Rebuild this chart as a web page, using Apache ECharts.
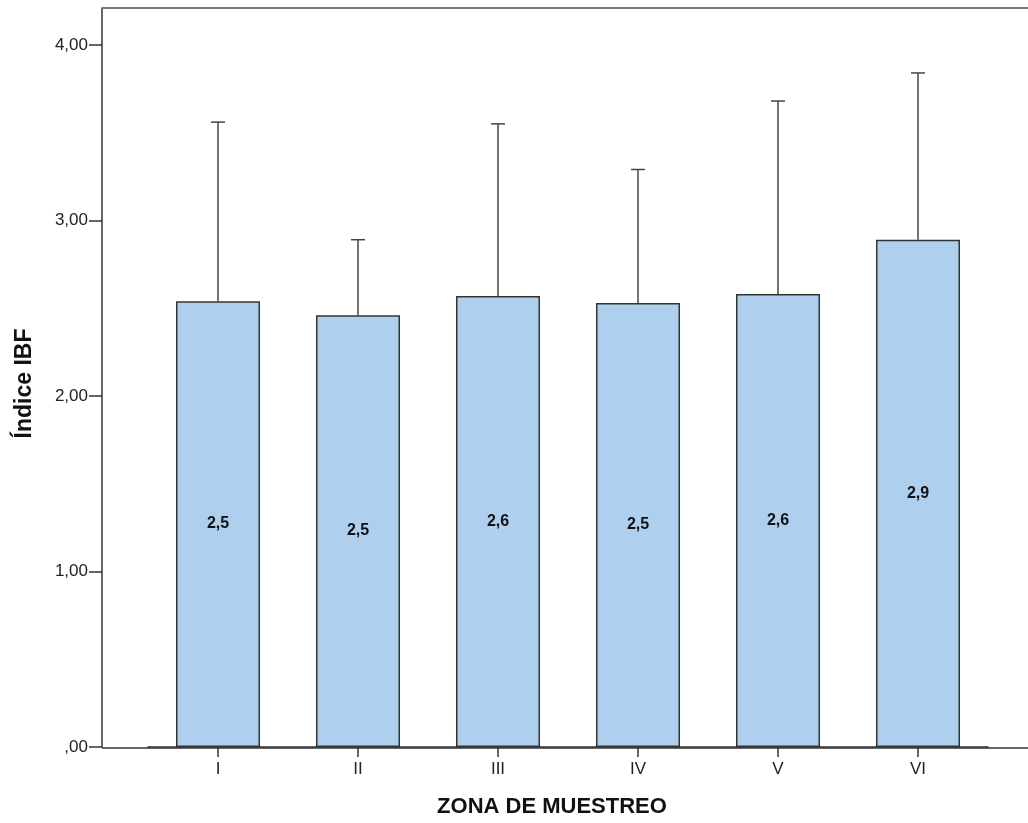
<!DOCTYPE html>
<html>
<head>
<meta charset="utf-8">
<script src="https://cdn.jsdelivr.net/npm/echarts@6/dist/echarts.min.js"></script>
<style>html,body{margin:0;padding:0;background:#fff}#c{width:1028px;height:823px}</style>
</head>
<body>
<div id="c"></div>
<script>
const categories = ['I', 'II', 'III', 'IV', 'V', 'VI'];
const means = [2.54, 2.46, 2.57, 2.53, 2.58, 2.89];
const upper = [3.56, 2.89, 3.55, 3.29, 3.68, 3.84];
const yTicks = [0, 1, 2, 3, 4];

const fmtTick = v => v === 0 ? ',00' : v.toFixed(2).replace('.', ',');
const fmtMean = v => v.toFixed(1).replace('.', ',');

const chart = echarts.init(document.getElementById('c'));
chart.setOption({
  animation: false,
  backgroundColor: '#fff',
  grid: { left: 148, right: 40, top: 8, bottom: 75 },
  xAxis: {
    type: 'category',
    data: categories,
    boundaryGap: true,
    name: 'ZONA DE MUESTREO',
    nameLocation: 'middle',
    nameGap: 49,
    nameTextStyle: { fontFamily: 'Liberation Sans', fontWeight: 'bold', fontSize: 22, color: '#111', padding: [0, 32, 0, 0] },
    axisLine: { show: true, lineStyle: { color: '#333', width: 1.5 } },
    axisTick: { show: true, alignWithLabel: true, length: 10, lineStyle: { color: '#333', width: 1.5 } },
    axisLabel: { fontFamily: 'Liberation Sans', fontSize: 17, color: '#222', margin: 14 },
    splitLine: { show: false }
  },
  yAxis: {
    type: 'value',
    min: 0,
    max: 4.21,
    interval: 1,
    offset: 46,
    name: 'Índice IBF',
    nameLocation: 'middle',
    nameGap: 66,
    nameRotate: 90,
    nameTextStyle: { fontFamily: 'Liberation Sans', fontWeight: 'bold', fontSize: 23, color: '#111', padding: [0, 12, 0, 0] },
    axisLine: { show: true, lineStyle: { color: '#333', width: 1.5 } },
    axisTick: { show: true, length: 13, customValues: yTicks, lineStyle: { color: '#333', width: 1.5 } },
    axisLabel: {
      fontFamily: 'Liberation Sans', fontSize: 17, color: '#222', margin: 14,
      customValues: yTicks,
      formatter: v => fmtTick(v)
    },
    splitLine: { show: false }
  },
  graphic: [
    { type: 'line', shape: { x1: 102, y1: 8, x2: 1028, y2: 8 }, style: { stroke: '#777', lineWidth: 2 }, z: 10 },
    { type: 'line', shape: { x1: 102, y1: 748, x2: 1028, y2: 748 }, style: { stroke: '#333', lineWidth: 1.5 }, z: 10 }
  ],
  series: [
    {
      type: 'bar',
      data: means,
      barWidth: 84,
      itemStyle: { color: '#aed0ee', borderColor: '#333', borderWidth: 1.5 },
      label: {
        show: true, position: 'inside',
        formatter: p => fmtMean(p.value),
        fontFamily: 'Liberation Sans', fontWeight: 'bold', fontSize: 16, color: '#111'
      },
      z: 2
    },
    {
      type: 'custom',
      data: categories.map((c, i) => [i, means[i], upper[i]]),
      renderItem: (params, api) => {
        const x = api.value(0);
        const p1 = api.coord([x, api.value(1)]);
        const p2 = api.coord([x, api.value(2)]);
        const st = { stroke: '#444', lineWidth: 1.5 };
        return {
          type: 'group',
          children: [
            { type: 'line', shape: { x1: p1[0], y1: p1[1], x2: p2[0], y2: p2[1] }, style: st },
            { type: 'line', shape: { x1: p2[0] - 7, y1: p2[1], x2: p2[0] + 7, y2: p2[1] }, style: st }
          ]
        };
      },
      z: 3
    }
  ]
});
</script>
</body>
</html>
